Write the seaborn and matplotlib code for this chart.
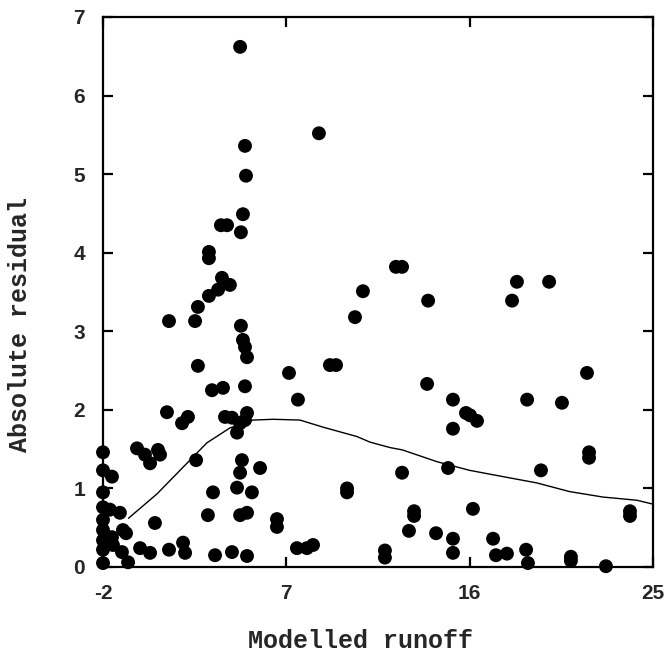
import matplotlib
matplotlib.use("Agg")
import matplotlib.pyplot as plt
import numpy as np
import pandas as pd
import seaborn as sns

# Modelled runoff vs absolute residual (observations)
runoff = [
    4.73, 8.60, 4.97, 5.02, 4.87, 4.77, 3.79, 4.09, 3.20, 3.20,
    3.84, 4.23, 3.65, 3.20, 2.66, 2.52, 1.24, 4.77, 10.37, 10.76,
    4.87, 4.97, 5.07, 2.66, 9.14, 9.44, 7.13, 3.35, 3.89, 4.97,
    7.57, 1.14, 2.17, 1.88, 3.99, 4.33, 5.07, 4.73, 4.58, 4.97,
    -2.00, -0.33, 0.06, 0.31, 0.70, 0.80, 2.57, 4.82, 5.71, 4.73,
    4.58, 5.31, 3.40, 9.98, 9.98,
    -2.00, -2.00, -2.00, -2.00, -2.00, -2.00, -2.00, -2.00,
    -1.56, -1.66, -1.56, -1.51,
    -1.17, -1.02, -0.87, -1.07, -0.77,
    -0.18, 0.31, 0.55, 3.15, 4.73, 5.07, 6.54, 6.54,
    1.24, 1.93, 2.03, 3.50, 4.33, 5.07, 7.52, 8.01, 8.31,
    11.84, 11.84,
    12.38, 12.68, 13.96, 18.32, 18.08, 19.90, 21.76, 13.91, 15.18, 18.82,
    20.53, 15.82, 16.02, 16.36, 15.18, 21.86, 21.86, 12.68, 14.94, 19.50,
    23.87, 23.87, 13.27, 13.27, 16.16, 13.02, 14.35, 15.18, 15.18, 17.15,
    17.29, 17.83, 18.77, 18.86, 20.97, 20.97, 22.69,
]
abs_residual = [
    6.62, 5.52, 5.36, 4.98, 4.49, 4.26, 4.35, 4.35, 4.01, 3.93,
    3.68, 3.59, 3.53, 3.45, 3.31, 3.13, 3.13, 3.07, 3.18, 3.51,
    2.89, 2.80, 2.67, 2.56, 2.57, 2.57, 2.47, 2.25, 2.28, 2.30,
    2.13, 1.97, 1.91, 1.83, 1.91, 1.90, 1.96, 1.83, 1.71, 1.87,
    1.46, 1.51, 1.43, 1.32, 1.49, 1.43, 1.36, 1.36, 1.26, 1.20,
    1.01, 0.95, 0.95, 1.00, 0.95,
    1.23, 0.95, 0.76, 0.60, 0.47, 0.34, 0.22, 0.05,
    1.15, 0.73, 0.38, 0.28,
    0.69, 0.47, 0.43, 0.19, 0.06,
    0.24, 0.18, 0.56, 0.66, 0.66, 0.69, 0.61, 0.51,
    0.22, 0.31, 0.18, 0.15, 0.19, 0.14, 0.24, 0.24, 0.28,
    0.21, 0.12,
    3.82, 3.82, 3.39, 3.63, 3.39, 3.63, 2.47, 2.33, 2.13, 2.13,
    2.09, 1.96, 1.93, 1.86, 1.76, 1.46, 1.39, 1.20, 1.26, 1.23,
    0.71, 0.65, 0.71, 0.65, 0.74, 0.46, 0.43, 0.36, 0.18, 0.36,
    0.15, 0.17, 0.22, 0.05, 0.13, 0.08, 0.01,
]

# Smoothed trend of the residuals
trend_x = [-0.75, 0.65, 2.27, 3.10, 4.23, 5.36, 6.35, 7.67, 8.80, 10.47,
           11.10, 12.09, 12.70, 14.40, 16.00, 17.64, 19.30, 20.90, 22.55,
           24.20, 25.00]
trend_y = [0.62, 0.93, 1.36, 1.58, 1.77, 1.87, 1.88, 1.87, 1.78, 1.66,
           1.59, 1.52, 1.49, 1.34, 1.23, 1.15, 1.07, 0.96, 0.89,
           0.85, 0.80]

x_ticks = [-2, 7, 16, 25]
y_ticks = [0, 1, 2, 3, 4, 5, 6, 7]

sns.set_style("ticks")

pts = pd.DataFrame({"runoff": runoff, "residual": abs_residual})
trend = pd.DataFrame({"runoff": trend_x, "residual": trend_y})

fig = plt.figure(figsize=(6.64, 6.55), dpi=100)
ax = fig.add_axes([103 / 664, 88 / 655, 550 / 664, 550 / 655])

sns.lineplot(data=trend, x="runoff", y="residual", ax=ax, color="black",
             linewidth=1.0, estimator=None, sort=False, zorder=2)
sns.scatterplot(data=pts, x="runoff", y="residual", ax=ax, color="black",
                s=100, edgecolor="none", linewidth=0, zorder=3, clip_on=False)

ax.set_xlim(-2, 25)
ax.set_ylim(0, 7)
ax.set_xticks(x_ticks)
ax.set_yticks(y_ticks)
ax.set_xticklabels([str(v) for v in x_ticks])
ax.set_yticklabels([str(v) for v in y_ticks])

for side in ["left", "right", "top", "bottom"]:
    ax.spines[side].set_visible(True)
    ax.spines[side].set_linewidth(1.6)
    ax.spines[side].set_color("black")

ax.tick_params(axis="both", which="major", direction="in", length=7.5,
               width=1.6, color="black", top=True, right=True)
ax.tick_params(axis="x", pad=12)
ax.tick_params(axis="y", pad=13)
for lab in ax.get_xticklabels() + ax.get_yticklabels():
    lab.set_fontfamily("Liberation Sans")
    lab.set_fontweight("bold")
    lab.set_fontsize(15)

ax.set_xlabel("")
ax.set_ylabel("")
fig.text(360 / 664, 1 - 641 / 655, "Modelled runoff", ha="center", va="center",
         fontfamily="Liberation Mono", fontweight="bold", fontsize=18)
fig.text(20 / 664, 1 - 324 / 655, "Absolute residual", ha="center", va="center",
         rotation=90, fontfamily="Liberation Mono", fontweight="bold", fontsize=18)

fig.savefig("out.png", dpi=100, facecolor="white")
